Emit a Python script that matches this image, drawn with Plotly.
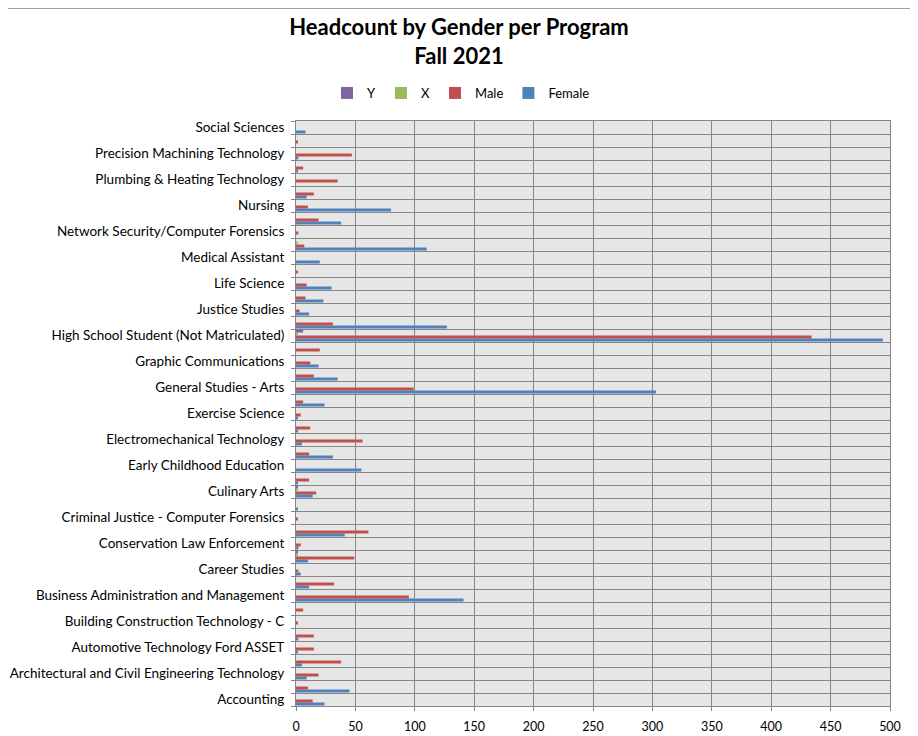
import plotly.graph_objects as go

programs = [
    "Accounting", "Allied Health Sciences", "Architectural and Civil Engineering Technology",
    "Automotive Technology", "Automotive Technology Ford ASSET", "Biology",
    "Building Construction Technology - C", "Business Administration",
    "Business Administration and Management", "Business Technology", "Career Studies",
    "Computer Information Systems", "Conservation Law Enforcement", "Criminal Justice",
    "Criminal Justice - Computer Forensics", "Criminal Justice - Law Enforcement",
    "Culinary Arts", "Dental Hygiene", "Early Childhood Education", "Electrical Technology",
    "Electromechanical Technology", "Engineering Science", "Exercise Science", "Fire Science",
    "General Studies - Arts", "General Studies - Science", "Graphic Communications",
    "Health Science", "High School Student (Not Matriculated)", "Human Services",
    "Justice Studies", "Liberal Arts", "Life Science", "Manufacturing Technology",
    "Medical Assistant", "Medical Office Management", "Network Security/Computer Forensics",
    "Non-Degree Seeking", "Nursing", "Paramedic", "Plumbing & Heating Technology",
    "Practical Nursing", "Precision Machining Technology", "Psychology", "Social Sciences",
]

female = [24, 45, 9, 5, 1, 2, 0, 0, 141, 11, 4, 10, 2, 41, 0, 1, 14, 1, 55, 31, 5, 1, 1, 24,
          303, 35, 19, 0, 494, 127, 11, 23, 30, 0, 20, 110, 0, 38, 80, 9, 0, 1, 2, 0, 8]
male = [14, 10, 19, 38, 15, 15, 1, 6, 95, 32, 2, 49, 4, 61, 1, 0, 17, 11, 0, 11, 56, 12, 4, 6,
        99, 15, 12, 20, 434, 31, 3, 8, 9, 1, 0, 7, 2, 19, 10, 15, 35, 6, 47, 1, 0]
gender_x = [0, 0, 0, 0, 0, 0, 0, 0, 0, 0, 0, 1, 0, 0, 0, 0, 1, 0, 0, 0, 0, 0, 0, 0,
            0, 0, 0, 0, 1, 0, 0, 0, 0, 0, 0, 1, 0, 0, 0, 0, 0, 0, 0, 0, 0]
gender_y = [0, 0, 0, 0, 0, 0, 0, 0, 0, 0, 0, 1, 0, 0, 0, 0, 1, 0, 0, 0, 0, 0, 0, 0,
            0, 0, 0, 0, 6, 0, 0, 0, 0, 0, 0, 0, 0, 0, 0, 0, 0, 0, 0, 0, 0]

x_ticks = [0, 50, 100, 150, 200, 250, 300, 350, 400, 450, 500]

series = [
    ("Female", female, "#4F81BD"),
    ("Male", male, "#C0504D"),
    ("X", gender_x, "#9BBB59"),
    ("Y", gender_y, "#8064A2"),
]

FONT = "Lato"

fig = go.Figure()
for name, vals, color in series:
    fig.add_trace(go.Bar(
        y=programs, x=vals, name=name, orientation="h",
        marker=dict(color=color, line=dict(width=0)),
    ))

ticktext = [p if i % 2 == 0 else "" for i, p in enumerate(programs)]

# page body has an 8px margin, so the figure is sized to fill the rest of the window
W, H = 910, 728
L, R, T, B = 288, 28, 113, 30
pw, ph = W - L - R, H - T - B

fig.update_layout(
    width=W, height=H,
    barmode="group", bargap=0.08, bargroupgap=0,
    paper_bgcolor="white", plot_bgcolor="#E6E6E6",
    margin=dict(l=L, r=R, t=T, b=B, autoexpand=False),
    font=dict(family=FONT, size=13, color="#000000"),
    title=dict(
        text="<b>Headcount by Gender per Program<br>Fall 2021</b>",
        x=451 / W, xref="container", xanchor="center",
        y=1 - 27 / H, yanchor="top",
        font=dict(family=FONT, size=22, color="#000000"),
    ),
    legend=dict(
        orientation="h", traceorder="reversed",
        x=(453 - L) / pw, xref="paper", xanchor="center",
        y=1 + 28 / ph, yanchor="middle",
        font=dict(family=FONT, size=13),
        itemwidth=30,
    ),
    xaxis=dict(
        range=[0, 500], tickvals=x_ticks, showgrid=True, gridcolor="#868686", gridwidth=1,
        showline=True, linecolor="#868686", mirror=True, ticks="outside", ticklen=4,
        tickcolor="#868686", zeroline=False, tickfont=dict(size=12.5),
        ticklabelstandoff=5, tickangle=0,
    ),
    yaxis=dict(
        type="category", tickmode="array", tickvals=programs, ticktext=ticktext,
        tickson="boundaries", showgrid=True, gridcolor="#868686", gridwidth=1,
        showline=True, linecolor="#868686", mirror=True, ticks="outside", ticklen=4,
        tickcolor="#868686", tickfont=dict(size=13.5), range=[-0.5, len(programs) - 0.5],
        ticklabelstandoff=8,
    ),
    shapes=[
        dict(type="line", xref="paper", yref="paper",
             x0=-L / pw, x1=1 + (R - 0.5) / pw, y0=1 + (T - 0.5) / ph, y1=1 + (T - 0.5) / ph,
             line=dict(color="#A0A0A0", width=1)),
        dict(type="line", xref="paper", yref="paper",
             x0=1 + (R - 0.5) / pw, x1=1 + (R - 0.5) / pw, y0=-B / ph, y1=1 + T / ph,
             line=dict(color="#A0A0A0", width=1)),
    ],
)

fig.write_html("out.html")
